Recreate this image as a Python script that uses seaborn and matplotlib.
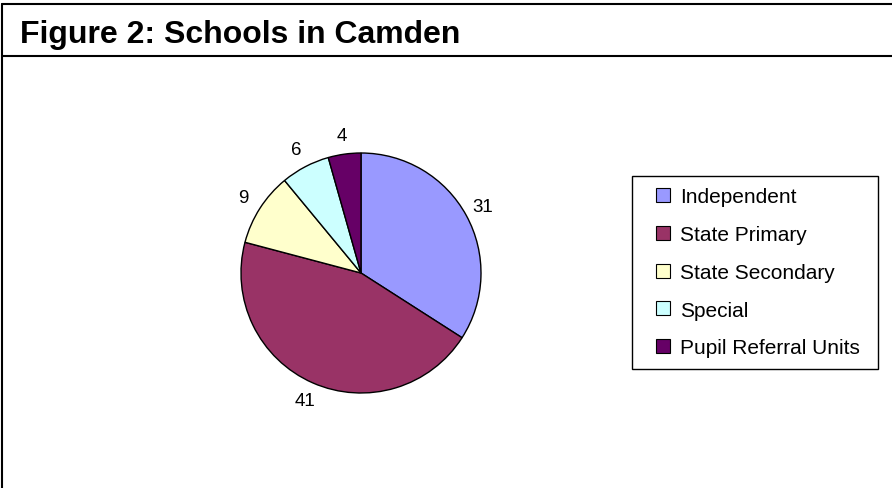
import matplotlib
matplotlib.use("Agg")
import matplotlib.pyplot as plt
import seaborn as sns
from matplotlib.lines import Line2D

# data
categories = ["Independent", "State Primary", "State Secondary", "Special", "Pupil Referral Units"]
counts = [31, 41, 9, 6, 4]
colours = ["#9999FF", "#993366", "#FFFFCC", "#CCFFFF", "#660066"]
title = "Figure 2: Schools in Camden"

sns.set_theme(style="white")
plt.rcParams['font.family'] = ['Liberation Sans', 'DejaVu Sans']
plt.rcParams['text.color'] = 'black'

W, H = 892, 489
fig = plt.figure(figsize=(W/100, H/100), dpi=100)

# pie axes, centre and radius in pixels
cx, cy, r = 361, 274, 120
ax = fig.add_axes([(cx - r)/W, 1 - (cy + r)/H, 2*r/W, 2*r/H])
pal = sns.color_palette(colours)
wedges, texts = ax.pie(counts, labels=[str(c) for c in counts], colors=pal,
                       startangle=90, counterclock=False, labeldistance=1.16,
                       wedgeprops=dict(edgecolor='black', linewidth=1),
                       textprops=dict(fontsize=13.5, color='black'))
for t in texts:
    t.set_ha('center')
ax.set_xlim(-1, 1)
ax.set_ylim(-1, 1)
ax.set_aspect('equal')

# frame lines (left, top, under the title)
lw = 1.5
fig.add_artist(Line2D([2/W, 2/W], [0, 1 - 5/H], color='black', lw=lw))
fig.add_artist(Line2D([2/W, 1], [1 - 5/H, 1 - 5/H], color='black', lw=lw))
fig.add_artist(Line2D([2/W, 1], [1 - 57/H, 1 - 57/H], color='black', lw=lw))

fig.text(20/W, 1 - 43/H, title, fontsize=23, fontweight='bold', va='baseline')

handles = [Line2D([], [], ls='', marker='s', markersize=9.5, markerfacecolor=c,
                  markeredgecolor='black', markeredgewidth=0.8) for c in colours]
leg = fig.legend(handles, categories, loc='upper left',
                 bbox_to_anchor=(632/W, 1 - 369/H, 246/W, 192/H), mode='expand',
                 borderaxespad=0, frameon=True, fancybox=False, edgecolor='black',
                 framealpha=1, fontsize=15, handlelength=1.9, handletextpad=-0.15,
                 labelspacing=0.9, borderpad=0.55)
leg.get_frame().set_linewidth(1)

fig.savefig('out.png', dpi=100)
